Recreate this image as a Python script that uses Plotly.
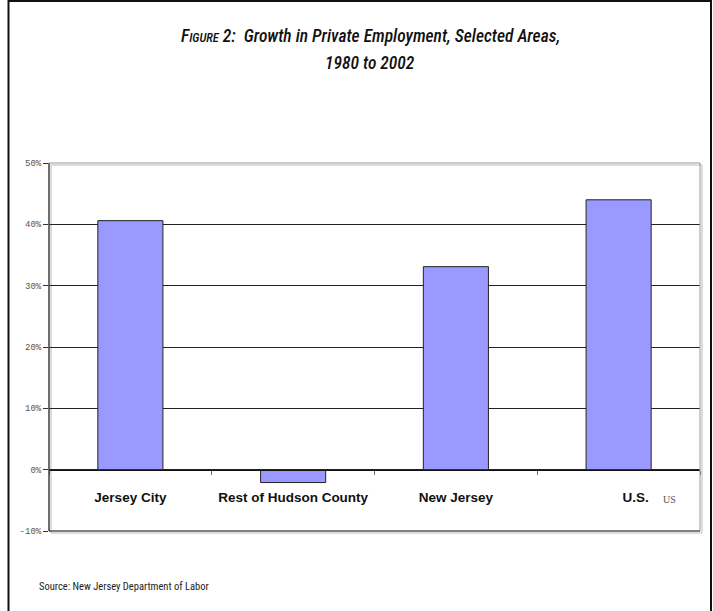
import plotly.graph_objects as go

# Growth in private employment, 1980 to 2002 (percent)
areas = ["Jersey City", "Rest of Hudson County", "New Jersey", "U.S."]
area_labels = ["Jersey City", "Rest of Hudson County", "New Jersey",
               "&nbsp;" * 9 + "U.S."]
growth_pct = [40.6, -2.1, 33.1, 44.0]
y_ticks = [-10, 0, 10, 20, 30, 40, 50]
y_tick_text = ["-10%", "0%", "10%", "20%", "30%", "40%", "50%"]

W, H = 713, 611
L, R, T, B = 49, 13, 163, 80
pw, ph = W - L - R, H - T - B


def px_x(x):
    return (x - L) / pw


def px_y(y):
    return (H - B - y) / ph


title_font = "Liberation Sans Narrow, Roboto Condensed, Arial Narrow, sans-serif"

fig = go.Figure()
fig.add_trace(go.Bar(
    x=areas,
    y=growth_pct,
    marker=dict(color="#9999FF", line=dict(color="#222222", width=1)),
    hoverinfo="x+y",
))

shapes = [
    # drop shadow of the plot box
    dict(type="rect", xref="paper", yref="paper", layer="below",
         x0=px_x(51), x1=px_x(702), y0=px_y(533), y1=px_y(165),
         line=dict(color="#BBBBBB", width=1), fillcolor="rgba(0,0,0,0)"),
    # plot box
    dict(type="rect", xref="paper", yref="paper", layer="above",
         x0=0, x1=1, y0=0, y1=1, line=dict(color="#999999", width=1)),
    dict(type="line", xref="paper", yref="paper", layer="above",
         x0=0, x1=1, y0=0, y1=0, line=dict(color="#333333", width=1)),
    dict(type="line", xref="paper", yref="paper", layer="above",
         x0=0, x1=0, y0=0, y1=1, line=dict(color="#111111", width=1)),
    # outer frame
    dict(type="rect", xref="paper", yref="paper", layer="above",
         x0=px_x(8.5), x1=px_x(711), y0=px_y(640), y1=px_y(1),
         line=dict(color="#111111", width=2)),
]

annotations = [
    dict(xref="paper", yref="paper", x=px_x(370), y=px_y(36),
         text="F<span style='font-size:12.5px'>IGURE</span> 2:  Growth in Private Employment, Selected Areas,",
         showarrow=False, xanchor="center", yanchor="middle",
         font=dict(family=title_font, size=17.5, color="#111111",
                   style="italic", weight=500)),
    dict(xref="paper", yref="paper", x=px_x(370), y=px_y(63),
         text="1980 to 2002",
         showarrow=False, xanchor="center", yanchor="middle",
         font=dict(family=title_font, size=17.5, color="#111111",
                   style="italic", weight=500)),
    dict(xref="paper", yref="paper", x=px_x(669), y=px_y(499),
         text="US", showarrow=False, xanchor="center", yanchor="middle",
         font=dict(family="Liberation Serif, serif", size=10, color="#555555")),
    dict(xref="paper", yref="paper", x=px_x(37), y=px_y(586),
         text="Source: New Jersey Department of Labor",
         showarrow=False, xanchor="left", yanchor="middle",
         font=dict(family=title_font, size=10.5, color="#222222")),
]

fig.update_layout(
    width=W, height=H,
    margin=dict(l=L, r=R, t=T, b=B, pad=0),
    paper_bgcolor="white",
    plot_bgcolor="white",
    showlegend=False,
    bargap=0.6,
    shapes=shapes,
    annotations=annotations,
    xaxis=dict(
        type="category",
        anchor="free",
        position=10 / 60,
        tickvals=areas,
        ticktext=area_labels,
        showline=True, linecolor="#111111", linewidth=1,
        ticks="outside", tickson="boundaries", ticklen=4,
        tickcolor="#666666",
        ticklabelstandoff=15,
        tickfont=dict(family="Liberation Sans, Arial, sans-serif", size=13.5,
                      color="#111111", weight="bold"),
        showgrid=False,
        fixedrange=True,
    ),
    yaxis=dict(
        range=[-10, 50],
        tickvals=y_ticks,
        ticktext=y_tick_text,
        ticks="outside", ticklen=5, tickcolor="#333333",
        tickfont=dict(family="Liberation Mono, DejaVu Sans Mono, monospace",
                      size=9, color="#555555"),
        showgrid=True, gridcolor="#222222", gridwidth=1,
        zeroline=False,
        showline=False,
        fixedrange=True,
    ),
)

fig.write_html("out.html")
